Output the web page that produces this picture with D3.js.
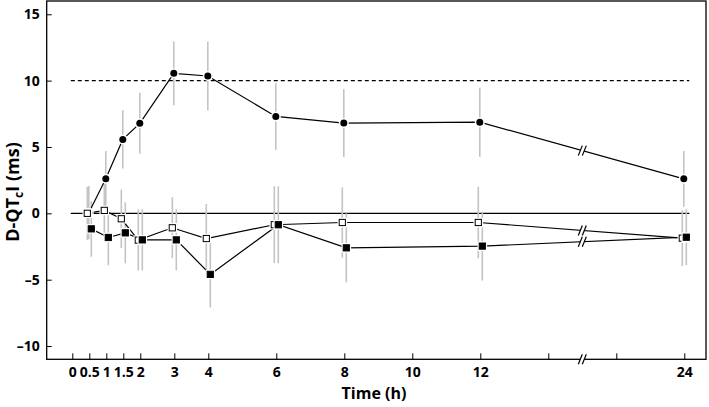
<!DOCTYPE html>
<html>
<head>
<meta charset="utf-8">
<script src="https://cdn.jsdelivr.net/npm/d3@7"></script>
<style>
  html, body { margin: 0; padding: 0; background: #fff; }
  svg { display: block; }
  text { font-family: "Open Sans", Lato, sans-serif; font-weight: 700; }
</style>
</head>
<body>
<svg id="chart" width="709" height="407"></svg>
<script>
// ---- data ----
const times = [0.5, 1, 1.5, 2, 3, 4, 6, 8, 12, 24];

const circleMean = [0.05, 2.6, 5.57, 6.78, 10.55, 10.35, 7.3, 6.8, 6.87, 2.6];
const circleErr  = [2.0, 2.1, 2.2, 2.3, 2.4, 2.6, 2.5, 2.55, 2.6, 2.1];

const openMean   = [0.0, 0.22, -0.41, -2.02, -1.09, -1.9, -0.86, -0.69, -0.69, -1.87];
const openErr    = [2.0, 2.0, 2.2, 2.3, 2.3, 2.6, 2.9, 2.65, 2.7, 2.1];

const filledMean = [-1.17, -1.82, -1.47, -2.0, -2.0, -4.6, -0.86, -2.6, -2.47, -1.8];
const filledErr  = [2.1, 2.1, 2.3, 2.3, 2.3, 2.5, 2.9, 2.6, 2.6, 2.1];

const xTickValues = [0, 0.5, 1, 1.5, 2, 3, 4, 6, 8, 10, 12, 14, 22, 24];
const xTickLabels = ["0", "0.5", "1", "1.5", "2", "3", "4", "6", "8", "10", "12", "", "", "24"];
const yTickValues = [-10, -5, 0, 5, 10, 15];
const refLevel = 10;
const breakTime = 18;

// ---- layout ----
const svg = d3.select("#chart");
const L = 46.7, R = 706, T = 1, B = 359.3;

// piecewise scale with compressed gap between 14 h and 22 h
const x = d3.scaleLinear().domain([0, 14, 22, 24]).range([72.3, 548.3, 616.3, 684.3]);
const y = d3.scaleLinear().domain([-11, 16]).range([B, T]);

const series = [
  { mean: circleMean, err: circleErr, type: "circle", dx: -0.5 },
  { mean: openMean, err: openErr, type: "open", dx: -2 },
  { mean: filledMean, err: filledErr, type: "filled", dx: 2 }
];

// reference lines
const refX0 = x(0) - 1.5, refX1 = x(24) + 5;
svg.append("line").attr("x1", refX0).attr("x2", refX1)
  .attr("y1", y(0)).attr("y2", y(0))
  .attr("stroke", "#000").attr("stroke-width", 1.3);
svg.append("line").attr("x1", refX0).attr("x2", refX1)
  .attr("y1", y(refLevel)).attr("y2", y(refLevel))
  .attr("stroke", "#000").attr("stroke-width", 1.1).attr("stroke-dasharray", "4,3");

// error bars (behind everything else)
series.forEach(s => {
  svg.append("g").selectAll("line").data(times).join("line")
    .attr("x1", (t) => x(t) + s.dx).attr("x2", (t) => x(t) + s.dx)
    .attr("y1", (t, i) => y(s.mean[i] + s.err[i]))
    .attr("y2", (t, i) => y(s.mean[i] - s.err[i]))
    .attr("stroke", "#c4c4c4").attr("stroke-width", 1.6);
});

// connecting lines
series.forEach(s => {
  const pts = times.map((t, i) => [x(t) + s.dx, y(s.mean[i])]);
  svg.append("path").attr("d", d3.line()(pts))
    .attr("fill", "none").attr("stroke", "#000").attr("stroke-width", 1.2);
  s.pts = pts;
});

// break marks
function breakMark(cx, cy) {
  const g = svg.append("g");
  const h = 5, sl = 2, gap = 2;
  g.append("polygon")
    .attr("points", [[cx - gap - sl, cy + h], [cx - gap + sl, cy - h], [cx + gap + sl, cy - h], [cx + gap - sl, cy + h]].map(p => p.join(",")).join(" "))
    .attr("fill", "#fff");
  [-gap, gap].forEach(o => {
    g.append("line")
      .attr("x1", cx + o - sl).attr("y1", cy + h)
      .attr("x2", cx + o + sl).attr("y2", cy - h)
      .attr("stroke", "#000").attr("stroke-width", 1.2);
  });
}
const xb = x(breakTime);
series.forEach(s => {
  const n = s.pts.length;
  const [x1, y1] = s.pts[n - 2], [x2, y2] = s.pts[n - 1];
  const yb = y1 + (y2 - y1) * (xb - x1) / (x2 - x1);
  breakMark(xb, yb);
});

// markers
series.forEach(s => {
  const g = svg.append("g");
  s.pts.forEach(([px, py]) => {
    if (s.type === "circle") {
      g.append("circle").attr("cx", px).attr("cy", py).attr("r", 5).attr("fill", "#fff");
      g.append("circle").attr("cx", px).attr("cy", py).attr("r", 3.5).attr("fill", "#000");
    } else {
      g.append("rect").attr("x", px - 4.8).attr("y", py - 4.8).attr("width", 9.6).attr("height", 9.6).attr("fill", "#fff");
      g.append("rect").attr("x", px - 3.1).attr("y", py - 3.1).attr("width", 6.2).attr("height", 6.2)
        .attr("fill", s.type === "filled" ? "#000" : "#fff")
        .attr("stroke", "#000").attr("stroke-width", 1);
    }
  });
});

// axes
const xAxis = d3.axisBottom(x).tickValues(xTickValues)
  .tickFormat((d, i) => xTickLabels[i]).tickSizeInner(-6).tickSizeOuter(0).tickPadding(8);
const gx = svg.append("g").attr("transform", `translate(0,${B})`).call(xAxis);
gx.select(".domain").remove();
gx.selectAll(".tick line").attr("stroke", "#000").attr("stroke-width", 1);
gx.selectAll(".tick text").attr("font-size", 14).attr("fill", "#000")
  .style("font-family", "'Open Sans', sans-serif").style("font-weight", 700);

const yAxis = d3.axisLeft(y).tickValues(yTickValues).tickSizeInner(-5).tickSizeOuter(0).tickPadding(7)
  .tickFormat(d => d < 0 ? "\u2013" + Math.abs(d) : String(d));
const gy = svg.append("g").attr("transform", `translate(${L},0)`).call(yAxis);
gy.select(".domain").remove();
gy.selectAll(".tick line").attr("stroke", "#000").attr("stroke-width", 1);
gy.selectAll(".tick text").attr("font-size", 14).attr("fill", "#000")
  .style("font-family", "'Open Sans', sans-serif").style("font-weight", 700);

// frame
svg.append("rect").attr("x", L).attr("y", T).attr("width", R - L).attr("height", B - T)
  .attr("fill", "none").attr("stroke", "#000").attr("stroke-width", 1.3);

// axis break
breakMark(xb, B);

// axis titles
svg.append("text").attr("x", 374).attr("y", 399)
  .attr("text-anchor", "middle").attr("font-size", 16).attr("fill", "#000")
  .text("Time (h)");

const yl = svg.append("text").attr("transform", "translate(19,192) rotate(-90)")
  .attr("text-anchor", "middle").attr("font-size", 18).attr("fill", "#000");
yl.append("tspan").text("D-QT");
yl.append("tspan").attr("font-size", 12).attr("dy", 4).text("c");
yl.append("tspan").attr("dy", -4).text("I (ms)");
</script>
</body>
</html>
